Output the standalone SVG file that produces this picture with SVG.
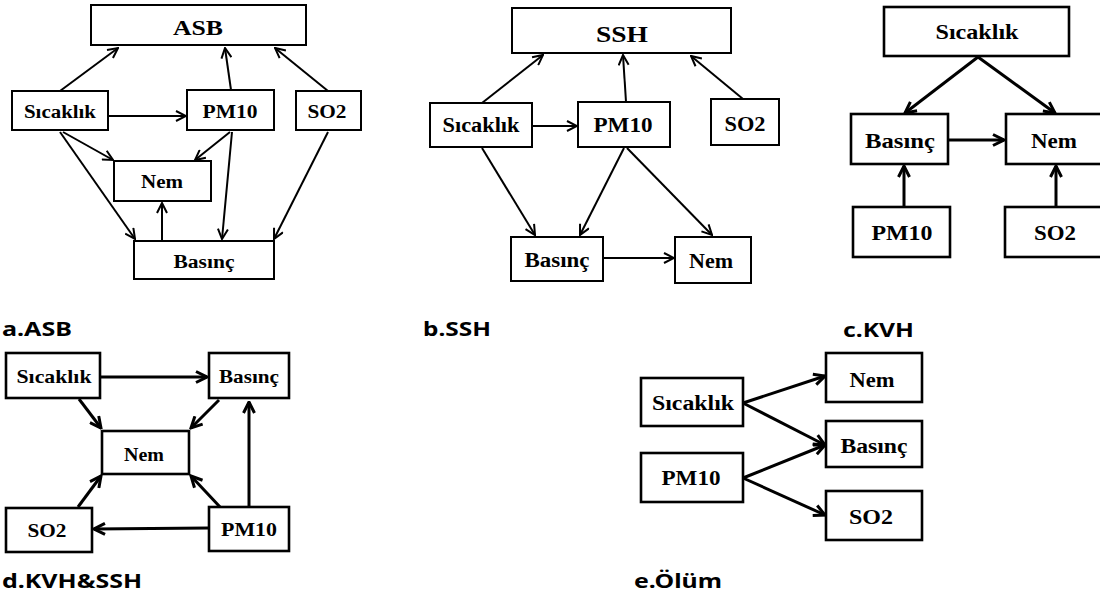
<svg xmlns="http://www.w3.org/2000/svg" width="1100" height="598" viewBox="0 0 1100 598">
<style>
.box{fill:#fff;stroke:#000;stroke-width:2}
.bx{fill:#fff;stroke:#000;stroke-width:2.6}
.t{font-family:"Liberation Serif","Times New Roman",serif;font-weight:bold;fill:#000;text-anchor:middle}
.lbl{font-family:"Noto Sans","Open Sans",sans-serif;font-weight:bold;font-size:19px;fill:#000}
.e1{fill:none;stroke:#000;stroke-width:2;marker-end:url(#h1)}
.e2{fill:none;stroke:#000;stroke-width:3;marker-end:url(#h2)}
</style>
<defs>
<marker id="h1" viewBox="0 0 12 12" refX="11" refY="6" markerWidth="12" markerHeight="12" markerUnits="userSpaceOnUse" orient="auto">
<path d="M1,1 L11,6 L1,11" fill="none" stroke="#000" stroke-width="2"/>
</marker>
<marker id="h2" viewBox="0 0 14 14" refX="12.5" refY="7" markerWidth="14" markerHeight="14" markerUnits="userSpaceOnUse" orient="auto">
<path d="M1.5,1.5 L12.5,7 L1.5,12.5" fill="none" stroke="#000" stroke-width="3"/>
</marker>
</defs>
<rect width="1100" height="598" fill="#fff"/>

<!-- Panel a -->
<g id="a-asb"><rect class="box" x="91" y="5" width="215" height="40"/><text class="t" x="198" y="35" font-size="21" textLength="50" lengthAdjust="spacingAndGlyphs">ASB</text></g>
<g id="a-sicaklik"><rect class="box" x="12" y="91" width="96" height="39"/><text class="t" x="60" y="118" font-size="18" textLength="72" lengthAdjust="spacingAndGlyphs">Sıcaklık</text></g>
<g id="a-pm10"><rect class="box" x="187" y="90" width="87" height="40"/><text class="t" x="230" y="118" font-size="18" textLength="55" lengthAdjust="spacingAndGlyphs">PM10</text></g>
<g id="a-so2"><rect class="box" x="296" y="91" width="65" height="39"/><text class="t" x="327" y="118" font-size="18" textLength="39" lengthAdjust="spacingAndGlyphs">SO2</text></g>
<g id="a-nem"><rect class="box" x="114" y="161" width="97" height="40"/><text class="t" x="162" y="188" font-size="18" textLength="42" lengthAdjust="spacingAndGlyphs">Nem</text></g>
<g id="a-basinc"><rect class="box" x="134" y="241" width="140" height="38"/><text class="t" x="204" y="268" font-size="18" textLength="61" lengthAdjust="spacingAndGlyphs">Basınç</text></g>

<!-- Panel b -->
<g id="b-ssh"><rect class="box" x="512" y="8" width="219" height="45"/><text class="t" x="622" y="42" font-size="24" textLength="52" lengthAdjust="spacingAndGlyphs">SSH</text></g>
<g id="b-sicaklik"><rect class="box" x="430" y="103" width="102" height="44"/><text class="t" x="481" y="132" font-size="20" textLength="77" lengthAdjust="spacingAndGlyphs">Sıcaklık</text></g>
<g id="b-pm10"><rect class="box" x="578" y="102" width="92" height="45"/><text class="t" x="623" y="132" font-size="20" textLength="59" lengthAdjust="spacingAndGlyphs">PM10</text></g>
<g id="b-so2"><rect class="box" x="711" y="99" width="68" height="46"/><text class="t" x="745" y="131" font-size="20" textLength="41" lengthAdjust="spacingAndGlyphs">SO2</text></g>
<g id="b-basinc"><rect class="box" x="511" y="237" width="92" height="44"/><text class="t" x="557" y="267" font-size="20" textLength="65" lengthAdjust="spacingAndGlyphs">Basınç</text></g>
<g id="b-nem"><rect class="box" x="675" y="237" width="76" height="46"/><text class="t" x="711" y="268" font-size="20" textLength="44" lengthAdjust="spacingAndGlyphs">Nem</text></g>

<!-- Panel c -->
<g id="c-sicaklik"><rect class="bx" x="884" y="7" width="185" height="49"/><text class="t" x="977" y="39" font-size="22" textLength="83" lengthAdjust="spacingAndGlyphs">Sıcaklık</text></g>
<g id="c-basinc"><rect class="bx" x="851" y="114" width="97" height="50"/><text class="t" x="900" y="148" font-size="22" textLength="70" lengthAdjust="spacingAndGlyphs">Basınç</text></g>
<g id="c-nem"><rect class="bx" x="1006" y="114" width="100" height="50"/><text class="t" x="1054" y="148" font-size="22" textLength="46" lengthAdjust="spacingAndGlyphs">Nem</text></g>
<g id="c-pm10"><rect class="bx" x="853" y="207" width="97" height="50"/><text class="t" x="902" y="240" font-size="22" textLength="61" lengthAdjust="spacingAndGlyphs">PM10</text></g>
<g id="c-so2"><rect class="bx" x="1005" y="207" width="100" height="50"/><text class="t" x="1055" y="240" font-size="22" textLength="42" lengthAdjust="spacingAndGlyphs">SO2</text></g>

<!-- Panel d -->
<g id="d-sicaklik"><rect class="bx" x="6" y="353" width="94" height="45"/><text class="t" x="54" y="383" font-size="19" textLength="75" lengthAdjust="spacingAndGlyphs">Sıcaklık</text></g>
<g id="d-basinc"><rect class="bx" x="209" y="353" width="80" height="45"/><text class="t" x="249" y="383" font-size="19" textLength="60" lengthAdjust="spacingAndGlyphs">Basınç</text></g>
<g id="d-nem"><rect class="bx" x="102" y="431" width="87" height="43"/><text class="t" x="144" y="461" font-size="19" textLength="40" lengthAdjust="spacingAndGlyphs">Nem</text></g>
<g id="d-so2"><rect class="bx" x="6" y="508" width="86" height="44"/><text class="t" x="47" y="537" font-size="19" textLength="39" lengthAdjust="spacingAndGlyphs">SO2</text></g>
<g id="d-pm10"><rect class="bx" x="209" y="507" width="80" height="44"/><text class="t" x="249" y="536" font-size="19" textLength="56" lengthAdjust="spacingAndGlyphs">PM10</text></g>

<!-- Panel e -->
<g id="e-sicaklik"><rect class="bx" x="641" y="378" width="102" height="48"/><text class="t" x="693" y="410" font-size="20" textLength="82" lengthAdjust="spacingAndGlyphs">Sıcaklık</text></g>
<g id="e-pm10"><rect class="bx" x="641" y="453" width="102" height="49"/><text class="t" x="691" y="485" font-size="20" textLength="59" lengthAdjust="spacingAndGlyphs">PM10</text></g>
<g id="e-nem"><rect class="bx" x="826" y="353" width="96" height="49"/><text class="t" x="872" y="387" font-size="20" textLength="45" lengthAdjust="spacingAndGlyphs">Nem</text></g>
<g id="e-basinc"><rect class="bx" x="826" y="421" width="96" height="46"/><text class="t" x="874" y="453" font-size="20" textLength="67" lengthAdjust="spacingAndGlyphs">Basınç</text></g>
<g id="e-so2"><rect class="bx" x="826" y="491" width="96" height="49"/><text class="t" x="871" y="524" font-size="20" textLength="44" lengthAdjust="spacingAndGlyphs">SO2</text></g>

<!-- Labels -->
<g id="labels">
<text class="lbl" x="2" y="336" textLength="70" lengthAdjust="spacingAndGlyphs">a.ASB</text>
<text class="lbl" x="423" y="336" textLength="68" lengthAdjust="spacingAndGlyphs">b.SSH</text>
<text class="lbl" x="843" y="337" textLength="71" lengthAdjust="spacingAndGlyphs">c.KVH</text>
<text class="lbl" x="2" y="588" textLength="140" lengthAdjust="spacingAndGlyphs">d.KVH&amp;SSH</text>
<text class="lbl" x="634" y="588" textLength="88" lengthAdjust="spacingAndGlyphs">e.Ölüm</text>
</g>

<!-- Connectors -->
<g id="connectors">
<!-- a -->
<line class="e1" x1="60" y1="91" x2="118" y2="48"/>
<line class="e1" x1="231" y1="90" x2="225" y2="48"/>
<line class="e1" x1="328" y1="91" x2="275" y2="48"/>
<line class="e1" x1="108" y1="116" x2="186" y2="116"/>
<line class="e1" x1="63" y1="132" x2="113" y2="160"/>
<line class="e1" x1="60" y1="132" x2="135" y2="239"/>
<line class="e1" x1="230" y1="132" x2="195" y2="160"/>
<line class="e1" x1="232" y1="132" x2="222" y2="239"/>
<line class="e1" x1="328" y1="132" x2="274" y2="239"/>
<line class="e1" x1="162" y1="241" x2="162" y2="203"/>
<!-- b -->
<line class="e1" x1="482" y1="103" x2="543" y2="55"/>
<line class="e1" x1="626" y1="102" x2="623" y2="55"/>
<line class="e1" x1="743" y1="99" x2="691" y2="56"/>
<line class="e1" x1="532" y1="126" x2="577" y2="126"/>
<line class="e1" x1="482" y1="148" x2="535" y2="235"/>
<line class="e1" x1="624" y1="148" x2="580" y2="235"/>
<line class="e1" x1="627" y1="148" x2="712" y2="235"/>
<line class="e1" x1="603" y1="258" x2="674" y2="258"/>
<!-- c -->
<line class="e2" x1="978" y1="57" x2="905" y2="113"/>
<line class="e2" x1="978" y1="57" x2="1055" y2="113"/>
<line class="e2" x1="948" y1="140" x2="1004" y2="140"/>
<line class="e2" x1="904" y1="207" x2="904" y2="166"/>
<line class="e2" x1="1056" y1="207" x2="1056" y2="166"/>
<!-- d -->
<line class="e2" x1="100" y1="377" x2="207" y2="377"/>
<line class="e2" x1="79" y1="399" x2="101" y2="428"/>
<line class="e2" x1="219" y1="400" x2="191" y2="428"/>
<line class="e2" x1="249" y1="507" x2="249" y2="402"/>
<line class="e2" x1="209" y1="528" x2="94" y2="529"/>
<line class="e2" x1="78" y1="507" x2="101" y2="476"/>
<line class="e2" x1="220" y1="507" x2="191" y2="476"/>
<!-- e -->
<line class="e2" x1="743" y1="403" x2="825" y2="376"/>
<line class="e2" x1="743" y1="403" x2="825" y2="445"/>
<line class="e2" x1="743" y1="478" x2="825" y2="445"/>
<line class="e2" x1="743" y1="478" x2="825" y2="515"/>
</g>
</svg>
